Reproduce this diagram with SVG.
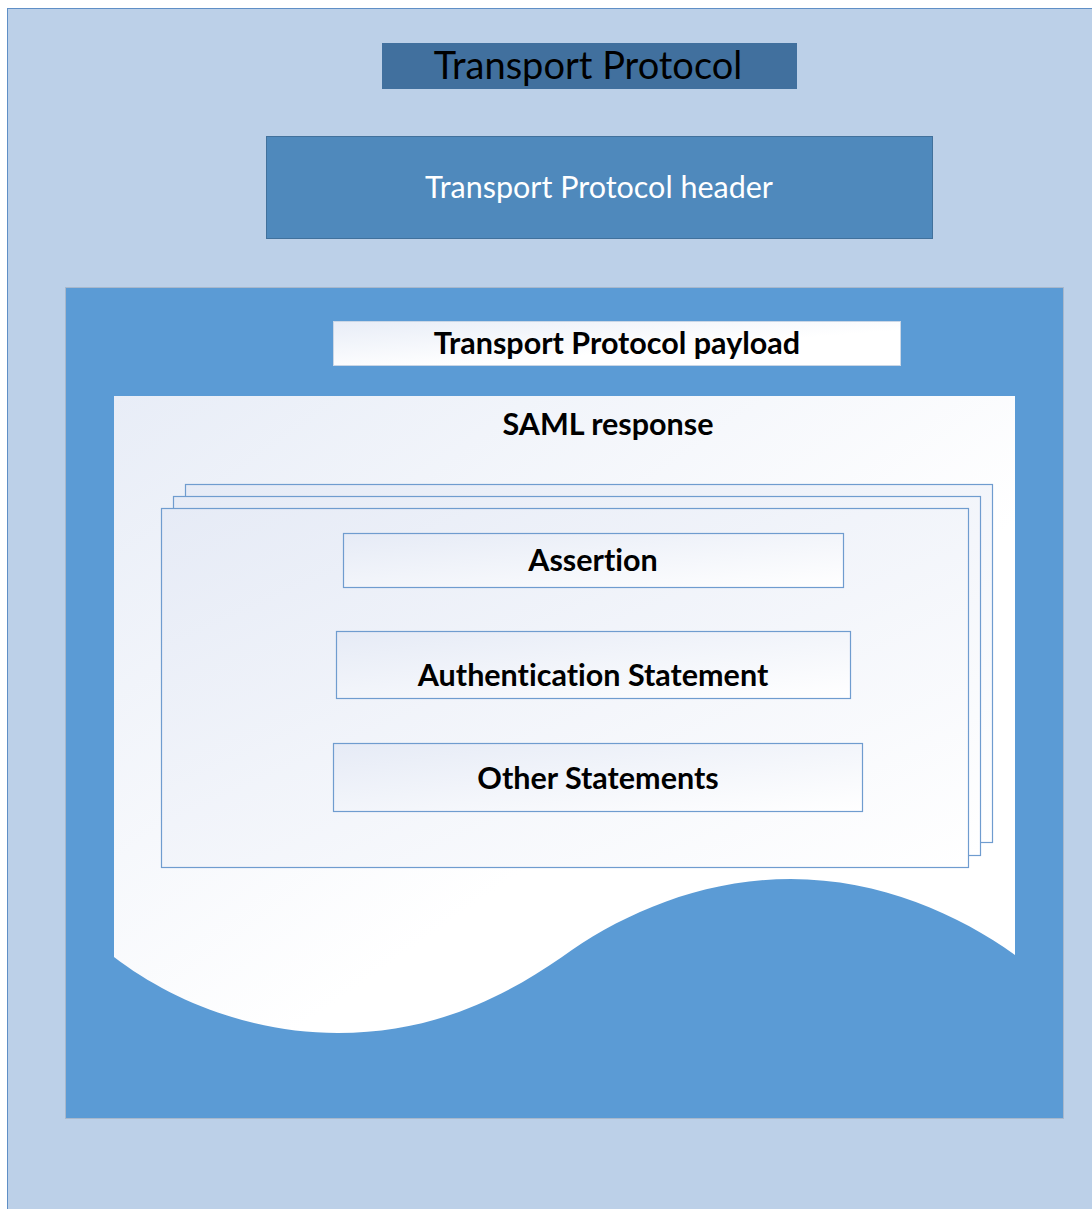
<svg xmlns="http://www.w3.org/2000/svg" width="1092" height="1209" viewBox="0 0 1092 1209">
<defs>
<linearGradient id="lg" x1="0" y1="0" x2="1" y2="1">
<stop offset="0" stop-color="#e8edf7"/>
<stop offset="0.6" stop-color="#ffffff"/>
<stop offset="1" stop-color="#ffffff"/>
</linearGradient>
<linearGradient id="lgb" x1="0" y1="0" x2="1" y2="1">
<stop offset="0" stop-color="#e6ebf6"/>
<stop offset="1" stop-color="#ffffff"/>
</linearGradient>
<style>
.t{font-family:Lato,"Open Sans","Liberation Sans",sans-serif;text-anchor:middle;font-variant-ligatures:none}
.b{font-weight:bold;font-size:30.5px;fill:#000}
.page{fill:url(#lgb);stroke:#6f9ccf;stroke-width:1.2}
.box{fill:url(#lgb);stroke:#6f9ccf;stroke-width:1.2}
</style>
</defs>
<g id="outer">
<rect x="7.5" y="8.5" width="1090" height="1210" fill="#bcd0e8" stroke="#5f8fc6" stroke-width="1"/>
</g>
<g id="title">
<rect x="382" y="43" width="415" height="46" fill="#41709e"/>
<text class="t" x="588" y="79" font-size="38" fill="#000">Transport Protocol</text>
</g>
<g id="header">
<rect x="266.5" y="136.5" width="666" height="102" fill="#4f89bc" stroke="#41719c" stroke-width="1"/>
<text class="t" x="599" y="198" font-size="30.5" fill="#ffffff">Transport Protocol header</text>
</g>
<g id="payload">
<rect x="65.5" y="287.5" width="998" height="831" fill="#5b9bd5" stroke="#a8b8cc" stroke-width="1"/>
</g>
<g id="payload-label">
<rect x="333.5" y="321.5" width="567" height="44" fill="url(#lg)" stroke="#c9d6e6" stroke-width="1"/>
<text class="t b" x="617" y="354">Transport Protocol payload</text>
</g>
<g id="saml-response">
<path d="M114,396 H1015 V955 C960,915 880,879 791,879 C700,879 620,915 562,957 C500,1000 430,1033 338,1033 C250,1033 170,1000 114,957 Z" fill="url(#lg)"/>
<text class="t b" x="608" y="435">SAML response</text>
</g>
<g id="pages">
<rect class="page" x="185.5" y="484.5" width="807" height="358"/>
<rect class="page" x="173.5" y="496.5" width="807" height="359"/>
<rect class="page" x="161.5" y="508.5" width="807" height="359"/>
</g>
<g id="assertion">
<rect class="box" x="343.5" y="533.5" width="500" height="54"/>
<text class="t b" x="593" y="571">Assertion</text>
</g>
<g id="authn-statement">
<rect class="box" x="336.5" y="631.5" width="514" height="67"/>
<text class="t b" x="593" y="686">Authentication Statement</text>
</g>
<g id="other-statements">
<rect class="box" x="333.5" y="743.5" width="529" height="68"/>
<text class="t b" x="598" y="789">Other Statements</text>
</g>
<g id="connectors"></g>
</svg>
